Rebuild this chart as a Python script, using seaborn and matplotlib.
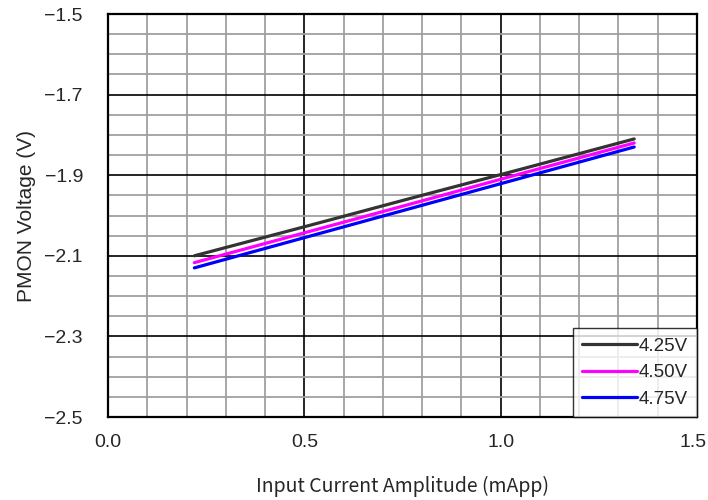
import numpy as np
import pandas as pd
import matplotlib
matplotlib.use("Agg")
import matplotlib.pyplot as plt
import matplotlib.transforms as mtransforms
import seaborn as sns
from matplotlib.ticker import MultipleLocator

current = [0.22, 0.50, 0.78, 1.06, 1.34]
v_425 = [-2.100, -2.028, -1.955, -1.883, -1.810]
v_450 = [-2.117, -2.043, -1.969, -1.894, -1.820]
v_475 = [-2.130, -2.055, -1.980, -1.905, -1.830]
series_labels = ["4.25V", "4.50V", "4.75V"]
x_ticks = [0.0, 0.5, 1.0, 1.5]
y_ticks = [-2.5, -2.3, -2.1, -1.9, -1.7, -1.5]

df = pd.DataFrame({
    "x": current * 3,
    "y": v_425 + v_450 + v_475,
    "s": [series_labels[0]] * len(current) + [series_labels[1]] * len(current) + [series_labels[2]] * len(current),
})

sns.set_style("white")
plt.rcParams["font.family"] = ["Noto Sans CJK JP", "DejaVu Sans"]
plt.rcParams["axes.unicode_minus"] = True
arial = ["Liberation Sans", "DejaVu Sans"]

fig = plt.figure(figsize=(7.08, 5.0), dpi=100)
ax = fig.add_axes([0.1525, 0.166, 0.832, 0.806])

palette = {series_labels[0]: "#333333", series_labels[1]: "#ff00ff", series_labels[2]: "#0000ff"}
sns.lineplot(data=df, x="x", y="y", hue="s", palette=palette, linewidth=2.3, ax=ax, zorder=5)

ax.set_xlim(0, 1.5)
ax.set_ylim(-2.5, -1.5)
ax.set_xticks(x_ticks)
ax.set_yticks(y_ticks)
ax.set_xticklabels([f"{t:.1f}" for t in x_ticks], family=arial, fontsize=14)
ax.set_yticklabels([f"{t:.1f}".replace("-", "\u2212") for t in y_ticks], family=arial, fontsize=14)
ax.xaxis.set_minor_locator(MultipleLocator(0.1))
ax.yaxis.set_minor_locator(MultipleLocator(0.05))
ax.grid(which="minor", color="#a0a0a0", linewidth=1.3, zorder=1)
ax.grid(which="major", color="black", linewidth=1.2, zorder=2)
ax.set_axisbelow(True)
ax.tick_params(which="both", length=0)
ax.tick_params(axis="x", pad=12)
ax.tick_params(axis="y", pad=18)
for sp in ax.spines.values():
    sp.set_color("black")
    sp.set_linewidth(1.6)
    sp.set_visible(True)

last = ax.get_xticklabels()[-1]
last.set_transform(last.get_transform() + mtransforms.ScaledTranslation(-4 / 100, 0, fig.dpi_scale_trans))

ax.set_xlabel("Input Current Amplitude (mApp)", fontsize=14, labelpad=18)
ax.set_ylabel("PMON Voltage (V)", fontsize=15, labelpad=6, family=arial)

leg = ax.legend(loc="lower right", frameon=True, handlelength=2.9,
                prop={"family": arial, "size": 13.5},
                handletextpad=0.1, borderaxespad=0.0, borderpad=0.5, labelspacing=0.5,
                fancybox=False, title=None)
leg.get_frame().set_edgecolor("black")
leg.get_frame().set_linewidth(1.0)
leg.set_zorder(10)

fig.savefig("out.png", dpi=100)
